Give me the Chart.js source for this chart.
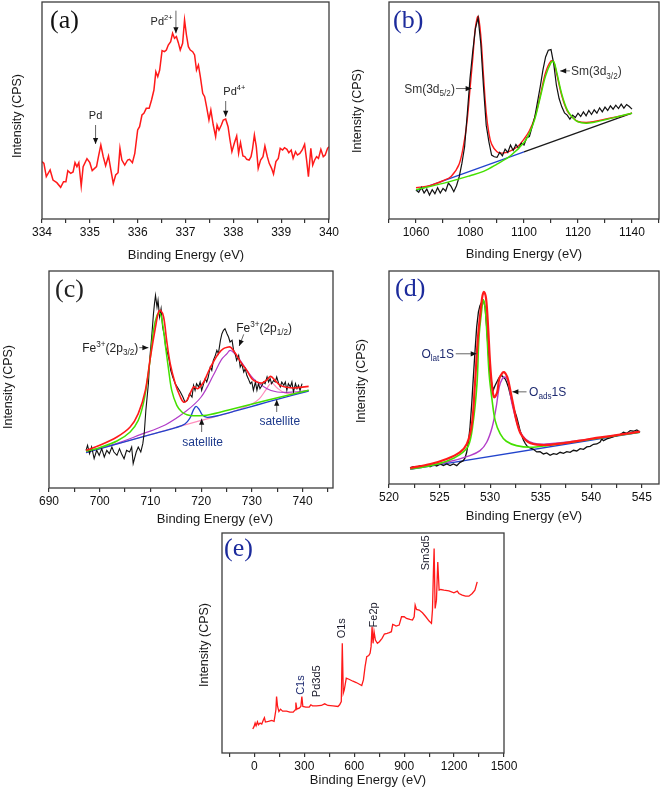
<!DOCTYPE html>
<html>
<head>
<meta charset="utf-8">
<title>XPS spectra</title>
<script src="https://cdn.jsdelivr.net/npm/chart.js@4.4.0/dist/chart.umd.min.js"></script>
<style>
  body { margin: 0; background: #fff; }
  #wrap { position: relative; width: 661px; height: 795px; overflow: hidden; }
  #wrap canvas { position: absolute; left: 0; top: 0; }
</style>
</head>
<body>
<div id="wrap">
  <canvas id="pa" width="661" height="795"></canvas>
  <canvas id="pb" width="661" height="795"></canvas>
  <canvas id="pc" width="661" height="795"></canvas>
  <canvas id="pd" width="661" height="795"></canvas>
  <canvas id="pe" width="661" height="795"></canvas>
</div>
<script>
// ---- (a) Pd 3d ----
const aEnergy = [334.00,334.04,334.09,334.17,334.23,334.31,334.39,334.45,334.50,334.54,
  334.60,334.65,334.69,334.73,334.77,334.82,334.86,334.94,335.00,335.05,
  335.14,335.18,335.23,335.28,335.33,335.39,335.44,335.49,335.54,335.59,
  335.63,335.67,335.73,335.79,335.83,335.89,335.94,336.00,336.04,336.09,
  336.13,336.18,336.24,336.29,336.34,336.38,336.42,336.46,336.51,336.56,
  336.60,336.64,336.69,336.73,336.77,336.81,336.85,336.89,336.94,336.98,
  337.02,337.06,337.10,337.15,337.19,337.23,337.27,337.31,337.36,337.40,
  337.44,337.49,337.53,337.58,337.63,337.66,337.70,337.75,337.79,337.84,
  337.89,337.93,337.97,338.02,338.07,338.11,338.15,338.20,338.24,338.28,
  338.33,338.37,338.40,338.44,338.48,338.52,338.57,338.62,338.66,338.71,
  338.75,338.80,338.84,338.89,338.94,338.98,339.03,339.07,339.12,339.16,
  339.21,339.25,339.30,339.34,339.39,339.44,339.49,339.53,339.57,339.62,
  339.66,339.70,339.74,339.78,339.83,339.88,339.92,339.97,340.00];
const aCounts = [172,167,127,147,117,109,95,112,112,145,
  137,141,169,157,169,99,157,181,169,145,
  157,187,222,187,160,189,147,107,132,139,
  212,177,162,177,179,169,197,267,277,312,
  317,332,332,357,387,442,427,447,505,502,
  507,522,532,557,542,547,529,507,527,597,
  552,517,507,502,492,447,462,427,377,367,
  337,297,327,282,247,282,267,282,297,300,
  277,237,202,227,249,197,229,189,187,179,
  177,187,209,252,217,152,177,187,219,187,
  167,152,135,172,182,212,207,214,209,199,
  207,182,202,192,197,207,224,179,127,212,
  162,177,187,182,209,187,192,212,217];
const aTicks = [334,334.5,335,335.5,336,336.5,337,337.5,338,338.5,339,339.5,340];
const aLabels = [334,335,336,337,338,339,340];

// ---- (b) Sm 3d ----
const bEnergy = [1060,1061,1062,1063,1064,1065,1066,1067,1068,1069,1070,1071,1072,1073,1074,1075,1076,1077,1078,1079,
  1080,1081,1082,1083,1084,1085,1086,1087,1088,1089,1090,1091,1092,1093,1094,1095,1096,1097,1098,1099,
  1100,1101,1102,1103,1104,1105,1106,1107,1108,1109,1110,1111,1112,1113,1114,1115,1116,1117,1118,1119,
  1120,1121,1122,1123,1124,1125,1126,1127,1128,1129,1130,1131,1132,1133,1134,1135,1136,1137,1138,1139,1140];
const bCounts = [87,80,95,78,90,72,88,76,94,78,92,84,108,98,82,100,127,167,217,317,
  422,502,572,605,527,397,282,232,192,187,185,200,190,210,200,222,206,224,212,228,
  222,244,248,277,307,352,397,447,487,507,509,467,402,362,337,319,312,300,312,305,
  318,308,322,310,326,314,328,318,334,322,336,326,340,330,342,332,345,333,344,338,330];
const bFitEnergy = [1060,1065,1070,1073,1076,1078,1079,1080,1081,1082,1083,1084,1085,1086,1087,1088,1090,1092,1095,1098,
  1100,1102,1104,1106,1108,1110,1111,1112,1114,1116,1118,1120,1123,1126,1130,1135,1140];
const bFitSum = [94,100,115,128,165,240,300,390,480,575,609,550,430,320,258,225,202,198,205,220,
  240,265,305,370,440,475,472,440,370,325,305,293,290,293,300,308,318];
const bPeak2Energy = [1060,1070,1080,1085,1090,1095,1100,1102,1104,1106,1108,1110,1111,1112,1114,1116,1118,1120,1123,1126,1130,1135,1140];
const bPeak2 = [88,107,130,143,165,190,230,258,300,365,430,470,473,445,375,328,305,292,288,291,298,308,318];
const bBaseBlueE = [1060,1100];
const bBaseBlue = [85,202];
const bBaseDarkE = [1100,1140];
const bBaseDark = [202,318];
const bTicks = [1050,1060,1070,1080,1090,1100,1110,1120,1130,1140,1150];
const bLabels = [1060,1080,1100,1120,1140];

// ---- (c) Fe 2p ----
const cEnergy = [697.3,697.6,698.0,698.4,698.9,699.4,699.9,700.4,700.9,701.4,
  701.9,702.4,702.8,703.4,703.9,704.3,704.8,705.3,705.9,706.3,
  706.6,707.2,707.6,708.1,708.5,708.8,709.1,709.6,709.9,710.3,
  710.6,710.8,711.0,711.3,711.5,711.8,712.1,712.4,712.8,713.0,
  713.4,713.7,714.0,714.4,714.9,715.3,715.9,716.4,716.8,717.3,
  717.7,718.2,718.5,718.8,719.1,719.5,719.8,720.1,720.5,720.8,
  721.1,721.4,721.8,722.1,722.4,722.8,723.1,723.4,723.8,724.1,
  724.4,724.7,725.1,725.4,725.7,726.1,726.4,726.7,727.0,727.4,
  727.7,728.0,728.4,728.7,729.0,729.3,729.7,730.0,730.3,730.7,
  731.0,731.3,731.6,732.0,732.3,732.6,733.0,733.3,733.6,733.9,
  734.3,734.6,734.9,735.3,735.6,735.9,736.3,736.6,736.9,737.2,
  737.6,737.9,738.2,738.6,738.9,739.2,739.5,739.9];
const cCounts = [113,128,103,123,88,113,98,118,93,113,
  103,123,108,98,118,103,88,113,108,123,
  73,108,123,108,133,168,233,313,393,463,
  523,553,578,543,563,513,538,483,453,423,
  403,383,353,333,313,303,288,273,258,263,
  283,273,308,293,313,303,318,293,313,328,
  318,333,363,353,383,398,413,403,443,463,
  473,478,463,453,438,443,413,403,383,398,
  363,373,348,358,338,328,313,318,293,318,
  293,313,298,308,318,313,333,318,328,313,
  323,318,333,313,303,318,308,318,293,313,
  303,318,288,313,298,308,293,313];
const cSumE = [697.3,700,703.4,706,707.6,709,710,711,711.6,712,712.6,713.2,713.9,714.9,715.9,716.5,717.2,718.5,719.3,720.5,
  721.4,722.4,723.4,724.4,725.4,725.7,726.1,727,728,729,730,731,732,733,733.7,734.6,735.6,736.9,738.2,739.5,741.2];
const cSum = [113,128,153,183,223,293,393,483,528,533,513,443,373,313,273,258,263,303,298,318,
  348,378,403,418,423,423,418,398,373,353,328,318,315,325,335,322,308,302,300,302,305];
const c2p32E = [697.3,700,703.4,706,707.6,708.6,709.3,710,710.6,711.3,711.8,712.3,712.9,713.6,714.2,715.2,716.2,717.2,718.5,721.1,726.4,733,741.2];
const c2p32 = [110,121,141,168,203,253,313,393,473,518,525,503,433,353,293,248,228,220,217,218,238,263,293];
const c2p12E = [697.3,703,708,713,717,720,722.4,724,725.1,725.7,726.5,727.7,730.3,733,735,738.2,741.2];
const c2p12 = [110,132,160,190,230,273,338,385,403,413,405,383,328,298,288,288,293];
const cSat1E = [697.3,710,715,716.8,717.8,718.5,719.0,719.6,720.3,721.2,723,727,731,735,741.2];
const cSat1 = [106,160,181,192,210,235,245,236,218,212,216,232,249,266,291];
const cSat2E = [697.3,720,726,730,731.5,732.8,733.9,735,736.5,738,741.2];
const cSat2 = [106,203,228,252,268,295,315,300,285,283,291];
const cTicks = [690,695,700,705,710,715,720,725,730,735,740,745];
const cLabels = [690,700,710,720,730,740];

// ---- (d) O 1s ----
const dEnergy = [522.08,522.41,522.74,523.07,523.40,523.73,524.06,524.39,524.72,525.05,
  525.38,525.71,526.04,526.37,526.70,527.03,527.35,527.52,527.68,527.85,
  528.01,528.18,528.34,528.51,528.67,528.84,529.00,529.17,529.33,529.50,
  529.66,529.83,529.99,530.16,530.32,530.49,530.65,530.82,530.98,531.15,
  531.31,531.48,531.64,531.81,531.97,532.14,532.30,532.47,532.63,532.80,
  532.96,533.13,533.29,533.46,533.62,533.79,533.95,534.28,534.61,534.94,
  535.27,535.60,535.93,536.26,536.59,536.92,537.25,537.58,537.91,538.24,
  538.57,538.90,539.23,539.56,539.89,540.22,540.55,540.88,541.04,541.21,
  541.54,541.87,542.20,542.53,542.86,543.19,543.52,543.85,544.18,544.51,544.83];
const dCounts = [48,52,50,55,52,57,52,58,54,60,
  55,60,55,60,55,65,70,78,95,125,
  170,240,320,400,470,515,535,545,550,530,
  470,390,335,300,282,295,305,315,322,325,
  320,315,305,290,270,250,230,215,200,180,
  160,145,132,122,115,110,108,104,96,97,
  90,93,86,91,89,95,92,97,95,101,
  99,106,104,111,113,119,120,126,135,130,
  135,138,142,145,148,155,152,160,158,162,155];
const dSumE = [522.1,524.1,525.7,527.0,527.7,528.2,528.5,528.8,529.1,529.25,529.4,529.6,529.8,530.0,530.2,530.4,530.7,530.9,531.2,531.4,
  531.7,532.0,532.3,532.6,533.0,533.5,534.0,534.6,535.6,537.2,538.9,540.5,542.2,543.8,544.8];
const dSum = [48,60,75,95,120,180,300,440,530,565,575,555,470,360,290,260,275,315,332,335,
  320,280,235,190,152,132,122,118,117,122,130,138,145,152,157];
const dLatE = [522.1,524.1,525.7,527.0,527.85,528.3,528.7,528.9,529.2,529.3,529.5,529.7,529.9,530.2,530.5,531.0,531.6,532.6,534.0,535.6,544.8];
const dLat = [45,55,68,88,115,180,300,440,530,552,530,440,330,250,190,150,128,115,110,115,155];
const dAdsE = [522.1,525.7,528.0,529.0,529.66,530.2,530.6,530.9,531.2,531.5,531.8,532.1,532.5,532.9,533.5,534.3,535.6,540,544.8];
const dAds = [45,65,85,100,125,170,230,290,315,320,305,250,200,160,135,122,120,135,157];
const dBaseE = [522.1,544.8];
const dBase = [44,155];
const dTicks = [520,522.5,525,527.5,530,532.5,535,537.5,540,542.5,545];
const dLabels = [520,525,530,535,540,545];

// ---- (e) survey ----
const eEnergy = [-10,-2,4,10,18,24,34,44,54,60,
  66,84,104,118,129,133,139,147,157,169,
  193,213,233,245,249,255,269,279,285,291,
  309,329,339,349,373,402,422,442,472,502,
  512,522,528,534,540,552,568,592,612,631,
  645,655,665,675,687,695,701,707,713,719,
  727,739,751,767,781,797,811,823,831,841,
  851,870,884,900,914,934,950,960,966,974,
  990,1010,1030,1050,1064,1070,1076,1080,1086,1094,
  1102,1110,1120,1139,1169,1199,1219,1229,1249,1269,
  1289,1309,1325,1339];
const eCounts = [72,80,90,82,94,85,90,87,100,106,
  93,95,98,95,130,170,140,125,132,126,
  126,123,123,130,152,132,135,140,170,140,
  138,138,145,142,142,143,148,143,142,140,
  145,155,330,180,190,225,222,216,212,207,
  203,220,260,290,293,300,320,380,330,365,
  340,330,335,345,358,360,362,365,387,385,
  382,385,410,410,405,402,400,410,445,432,
  430,422,410,397,390,430,550,615,435,460,
  575,490,492,490,488,482,487,480,475,472,
  472,480,490,515];
const eTicks = [-150,0,150,300,450,600,750,900,1050,1200,1350,1500];
const eLabels = [0,300,600,900,1200,1500];

// ---- drawing ----
const W = 661, H = 795, AXIS_H = 24;
const SANS = "'Liberation Sans', Arial, sans-serif";
const RED = '#ff1a1a', GREEN = '#44e000', BLUE = '#2244cc', PURPLE = '#b23cc8', PINK = '#ff8cbc', BLACK = '#111';

const pts = (xs, ys) => xs.map((x, i) => ({ x, y: ys[i] }));

function richText(ctx, parts, px, py, align, size, color) {
  const fs = k => (k ? size * 0.68 : size);
  let w = 0;
  parts.forEach(([t, k]) => { ctx.font = fs(k) + 'px ' + SANS; w += ctx.measureText(t).width; });
  let cx = align === 'right' ? px - w : align === 'center' ? px - w / 2 : px;
  ctx.textAlign = 'left';
  ctx.textBaseline = 'alphabetic';
  ctx.fillStyle = color;
  const base = py + size * 0.36;
  parts.forEach(([t, k]) => {
    ctx.font = fs(k) + 'px ' + SANS;
    const dy = k === 1 ? -size * 0.42 : k === -1 ? size * 0.28 : 0;
    ctx.fillText(t, cx, base + dy);
    cx += ctx.measureText(t).width;
  });
}

function arrow(ctx, x1, y1, x2, y2) {
  ctx.strokeStyle = '#666';
  ctx.lineWidth = 1;
  ctx.beginPath(); ctx.moveTo(x1, y1); ctx.lineTo(x2, y2); ctx.stroke();
  const ang = Math.atan2(y2 - y1, x2 - x1), L = 6, S = 2.6;
  const c = Math.cos(ang), s = Math.sin(ang);
  ctx.fillStyle = '#111';
  ctx.beginPath();
  ctx.moveTo(x2, y2);
  ctx.lineTo(x2 - L * c + S * s, y2 - L * s - S * c);
  ctx.lineTo(x2 - L * c - S * s, y2 - L * s + S * c);
  ctx.closePath(); ctx.fill();
}

const decor = {
  id: 'decor',
  afterDatasetsDraw(chart, args, o) {
    const { ctx, chartArea: a, scales: { x, y } } = chart;
    ctx.save();
    ctx.strokeStyle = '#3c3c3c';
    ctx.lineWidth = 1.3;
    ctx.strokeRect(a.left, a.top, a.right - a.left, a.bottom - a.top);

    ctx.font = '26px "Liberation Serif", "Times New Roman", serif';
    ctx.fillStyle = o.letterColor;
    ctx.textAlign = 'left';
    ctx.textBaseline = 'middle';
    ctx.fillText(o.letter, o.letterAt[0], o.letterAt[1]);

    ctx.font = '13px ' + SANS;
    ctx.fillStyle = '#1a1a1a';
    ctx.textAlign = 'center';
    ctx.fillText('Binding Energy (eV)', o.xTitleAt[0], o.xTitleAt[1]);
    ctx.font = '12.5px ' + SANS;
    ctx.save();
    ctx.translate(o.yTitleAt[0], o.yTitleAt[1]);
    ctx.rotate(-Math.PI / 2);
    ctx.fillText('Intensity (CPS)', 0, 0);
    ctx.restore();

    (o.notes || []).forEach(n => {
      if (n.arrow) {
        const [[e1, i1], [e2, i2]] = n.arrow;
        arrow(ctx, x.getPixelForValue(e1), y.getPixelForValue(i1), x.getPixelForValue(e2), y.getPixelForValue(i2));
        return;
      }
      const px = x.getPixelForValue(n.at[0]), py = y.getPixelForValue(n.at[1]);
      const size = n.size || o.noteSize || 12, color = n.color || o.noteColor || '#222';
      if (n.rot) {
        ctx.save();
        ctx.translate(px, py);
        ctx.rotate(-Math.PI / 2);
        richText(ctx, n.text, 0, 0, 'left', size, color);
        ctx.restore();
      } else {
        richText(ctx, n.text, px, py, n.align || 'center', size, color);
      }
    });
    ctx.restore();
  }
};

function panel(id, cfg) {
  const [l, t, r, b] = cfg.frame;
  const sets = cfg.sets.slice().reverse(); // first listed is drawn at the bottom
  new Chart(document.getElementById(id), {
    type: 'line',
    data: {
      datasets: sets.map(s => ({
        data: pts(s.x, s.y),
        borderColor: s.color,
        borderWidth: s.w || 1,
        pointRadius: 0,
        tension: s.smooth ? 0.35 : 0,
        fill: false
      }))
    },
    options: {
      responsive: false,
      animation: false,
      events: [],
      layout: { padding: { left: l, top: t, right: W - r, bottom: H - b - AXIS_H } },
      plugins: { legend: { display: false }, tooltip: { enabled: false }, decor: cfg.decor },
      scales: {
        x: {
          type: 'linear',
          min: cfg.min,
          max: cfg.max,
          afterBuildTicks: s => { s.ticks = cfg.ticks.map(v => ({ value: v })); },
          afterFit: s => { s.height = AXIS_H; },
          ticks: {
            autoSkip: false, maxRotation: 0, padding: 2, color: '#111',
            font: { family: SANS, size: 12 },
            callback: v => (cfg.labels.includes(v) ? String(v) : '')
          },
          grid: { drawOnChartArea: false, drawTicks: true, tickLength: 4, color: '#333', lineWidth: 1.2 },
          border: { display: false }
        },
        y: { display: false, min: 0, max: cfg.ymax }
      }
    },
    plugins: [decor]
  });
}

panel('pa', {
  frame: [42, 2, 329, 219], min: 334, max: 340, ymax: 651, ticks: aTicks, labels: aLabels,
  sets: [{ x: aEnergy, y: aCounts, color: RED, w: 1.5 }],
  decor: {
    letter: '(a)', letterColor: '#111', letterAt: [50, 21],
    xTitleAt: [186, 255], yTitleAt: [18, 116], noteSize: 11, noteColor: '#222',
    notes: [
      { text: [['Pd', 0]], at: [335.12, 313] },
      { arrow: [[335.12, 282], [335.12, 225]] },
      { text: [['Pd', 0], ['2+', 1]], at: [336.50, 595] },
      { arrow: [[336.80, 625], [336.80, 557]] },
      { text: [['Pd', 0], ['4+', 1]], at: [338.02, 385] },
      { arrow: [[337.84, 354], [337.84, 307]] }
    ]
  }
});

panel('pb', {
  frame: [389, 2, 659, 219], min: 1050, max: 1150, ymax: 652, ticks: bTicks, labels: bLabels,
  sets: [
    { x: bBaseBlueE, y: bBaseBlue, color: BLUE, w: 1.3 },
    { x: bBaseDarkE, y: bBaseDark, color: '#1a1a1a', w: 1.3 },
    { x: bFitEnergy, y: bFitSum, color: RED, w: 1.4, smooth: true },
    { x: bEnergy, y: bCounts, color: BLACK, w: 1.2 },
    { x: bPeak2Energy, y: bPeak2, color: GREEN, w: 1.5, smooth: true }
  ],
  decor: {
    letter: '(b)', letterColor: '#1c2b9c', letterAt: [393, 21],
    xTitleAt: [524, 254], yTitleAt: [358, 111], noteSize: 12, noteColor: '#333',
    notes: [
      { text: [['Sm(3d', 0], ['5/2', -1], [')', 0]], at: [1074.4, 392], align: 'right' },
      { arrow: [[1074.8, 392], [1080.6, 392]] },
      { text: [['Sm(3d', 0], ['3/2', -1], [')', 0]], at: [1117.4, 445], align: 'left' },
      { arrow: [[1117.0, 445], [1113.4, 445]] }
    ]
  }
});

panel('pc', {
  frame: [49, 271, 333, 488], min: 690, max: 746, ymax: 651, ticks: cTicks, labels: cLabels,
  sets: [
    { x: cSat2E, y: cSat2, color: PINK, w: 1.2, smooth: true },
    { x: c2p12E, y: c2p12, color: PURPLE, w: 1.2, smooth: true },
    { x: cSat1E, y: cSat1, color: BLUE, w: 1.4, smooth: true },
    { x: cEnergy, y: cCounts, color: BLACK, w: 1.1 },
    { x: c2p32E, y: c2p32, color: GREEN, w: 1.5, smooth: true },
    { x: cSumE, y: cSum, color: RED, w: 1.6, smooth: true }
  ],
  decor: {
    letter: '(c)', letterColor: '#222', letterAt: [55, 290],
    xTitleAt: [215, 519], yTitleAt: [9, 387], noteSize: 12, noteColor: '#222',
    notes: [
      { text: [['Fe', 0], ['3+', 1], ['(2p', 0], ['3/2', -1], [')', 0]], at: [707.6, 421], align: 'right' },
      { arrow: [[707.8, 421], [709.6, 421]] },
      { text: [['Fe', 0], ['3+', 1], ['(2p', 0], ['1/2', -1], [')', 0]], at: [726.9, 482], align: 'left' },
      { arrow: [[728.4, 461], [727.5, 426]] },
      { text: [['satellite', 0]], at: [720.3, 138], color: '#1e3a8c' },
      { arrow: [[720.1, 168], [720.1, 208]] },
      { text: [['satellite', 0]], at: [735.5, 201], color: '#1e3a8c' },
      { arrow: [[734.9, 228], [734.9, 265]] }
    ]
  }
});

panel('pd', {
  frame: [389, 271, 659, 484], min: 520, max: 546.7, ymax: 638, ticks: dTicks, labels: dLabels,
  sets: [
    { x: dBaseE, y: dBase, color: BLUE, w: 1.3 },
    { x: dEnergy, y: dCounts, color: BLACK, w: 1.3 },
    { x: dAdsE, y: dAds, color: PURPLE, w: 1.4, smooth: true },
    { x: dLatE, y: dLat, color: GREEN, w: 1.6, smooth: true },
    { x: dSumE, y: dSum, color: RED, w: 2.2, smooth: true }
  ],
  decor: {
    letter: '(d)', letterColor: '#1c2b9c', letterAt: [395, 289],
    xTitleAt: [524, 516], yTitleAt: [362, 381], noteSize: 12, noteColor: '#1e2a70',
    notes: [
      { text: [['O', 0], ['lat', -1], ['1S', 0]], at: [526.43, 390], align: 'right' },
      { arrow: [[526.6, 390], [528.67, 390]] },
      { text: [['O', 0], ['ads', -1], ['1S', 0]], at: [533.85, 278], align: 'left' },
      { arrow: [[533.6, 276], [532.2, 276]] }
    ]
  }
});

panel('pe', {
  frame: [222, 533, 504, 753], min: -195, max: 1500, ymax: 662, ticks: eTicks, labels: eLabels,
  sets: [{ x: eEnergy, y: eCounts, color: RED, w: 1.3 }],
  decor: {
    letter: '(e)', letterColor: '#1c2b9c', letterAt: [224, 549],
    xTitleAt: [368, 780], yTitleAt: [205, 645], noteSize: 11, noteColor: '#1a1a2a',
    notes: [
      { text: [['C1s', 0]], at: [273, 175], rot: true, color: '#1e2a70' },
      { text: [['Pd3d5', 0]], at: [372, 168], rot: true },
      { text: [['O1s', 0]], at: [522, 345], rot: true },
      { text: [['Fe2p', 0]], at: [711, 378], rot: true },
      { text: [['Sm3d5', 0]], at: [1026, 550], rot: true }
    ]
  }
});
</script>
</body>
</html>
